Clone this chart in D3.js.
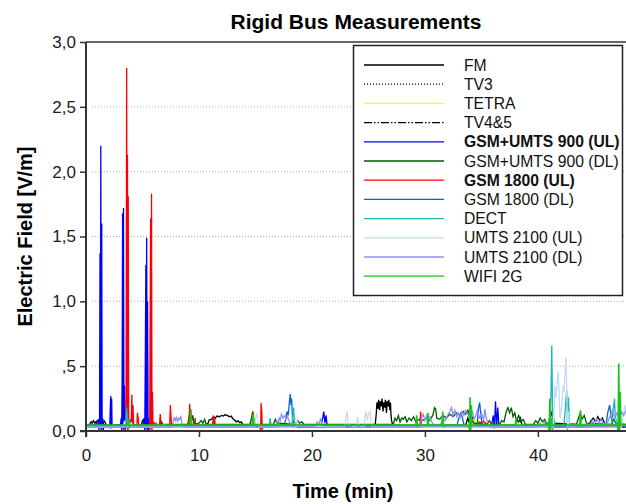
<!DOCTYPE html>
<html>
<head>
<meta charset="utf-8">
<script src="https://cdn.jsdelivr.net/npm/d3@7"></script>
<style>
  body { margin: 0; background: #fff; }
  text { font-family: Arial, "Liberation Sans", sans-serif; }
</style>
</head>
<body>
<svg id="chart" width="626" height="504"></svg>
<script>
// Field strength samples per service: [time (min), E (V/m)]
const fm = [[0,0.04],[0.3,0.05],[0.45,0.07],[0.55,0.06],[0.65,0.08],[0.8,0.06],[0.9,0.075],[1.0,0.045],[1.5,0.045],[1.6,0.08],[1.7,0.065],[1.8,0.045],[4.9,0.045],[5.0,0.08],[5.1,0.09],[5.2,0.07],[5.3,0.045],[10.6,0.045],[10.8,0.06],[10.9,0.085],[11.1,0.09],[11.3,0.11],[11.45,0.1],[11.6,0.115],[11.8,0.11],[12.0,0.12],[12.15,0.115],[12.3,0.125],[12.5,0.12],[12.7,0.11],[12.85,0.115],[13.0,0.095],[13.15,0.085],[13.3,0.07],[13.45,0.08],[13.6,0.065],[13.75,0.07],[13.9,0.045],[25.6,0.045],[25.7,0.14],[25.75,0.22],[25.85,0.17],[25.9,0.24],[26.0,0.16],[26.05,0.23],[26.15,0.19],[26.2,0.25],[26.3,0.15],[26.35,0.22],[26.45,0.18],[26.5,0.24],[26.6,0.14],[26.65,0.23],[26.75,0.19],[26.8,0.24],[26.9,0.16],[26.95,0.22],[27.0,0.12],[27.05,0.08],[27.15,0.045],[33.6,0.045],[33.8,0.1],[33.9,0.07],[34.1,0.12],[34.3,0.08],[34.5,0.045],[38.0,0.045],[38.1,0.09],[38.3,0.07],[38.45,0.1],[38.6,0.045],[40.9,0.045],[41.1,0.1],[41.3,0.16],[41.4,0.06],[44.5,0.045],[44.7,0.08],[44.9,0.1],[45.1,0.07],[45.3,0.11],[45.5,0.08],[45.7,0.1],[45.9,0.06],[46.1,0.045],[47.8,0.045]];
const tv3 = [[0,0.035],[10,0.04],[20,0.035],[30,0.04],[40,0.035],[47.8,0.04]];
const tetra = [[0,0.03],[33.9,0.03],[34.1,0.07],[34.3,0.09],[34.45,0.06],[34.6,0.085],[34.8,0.07],[35.0,0.03],[47.8,0.03]];
const tv45 = [[0,0.03],[12,0.035],[24,0.03],[36,0.035],[47.8,0.03]];
const gsm900ul = [[0,0.04],[0.9,0.05],[1.1,0.09],[1.15,0.0],[1.2,0.1],[1.24,1.37],[1.28,0.03],[1.31,2.2],[1.35,0.0],[1.39,1.6],[1.43,0.02],[1.47,0.1],[1.52,0.0],[1.58,0.05],[2.05,0.04],[2.1,0.02],[2.15,0.18],[2.19,0.27],[2.22,0.03],[2.27,0.25],[2.31,0.03],[2.4,0.04],[3.05,0.05],[3.12,0.1],[3.16,0.0],[3.2,0.43],[3.24,1.68],[3.28,0.02],[3.32,1.72],[3.36,0.0],[3.41,0.35],[3.46,0.02],[3.52,0.06],[3.6,0.04],[5.05,0.05],[5.15,0.1],[5.2,0.0],[5.25,0.56],[5.3,1.28],[5.33,0.02],[5.37,1.49],[5.41,0.0],[5.45,1.0],[5.5,0.0],[5.55,0.1],[5.6,0.04],[20.8,0.04],[20.95,0.1],[21.05,0.15],[21.15,0.06],[21.25,0.12],[21.35,0.04],[35.9,0.04],[36.05,0.12],[36.15,0.02],[36.25,0.23],[36.35,0.03],[36.45,0.18],[36.55,0.04],[47.8,0.04]];
const gsm900dl = [[0,0.04],[3.8,0.04],[3.9,0.09],[4.0,0.06],[4.1,0.1],[4.2,0.05],[6.6,0.04],[6.7,0.07],[6.8,0.05],[9.0,0.05],[9.15,0.12],[9.25,0.17],[9.35,0.08],[9.45,0.12],[9.55,0.05],[10.0,0.06],[10.2,0.08],[10.35,0.06],[10.5,0.09],[10.65,0.05],[14.5,0.05],[14.65,0.1],[14.75,0.15],[14.85,0.07],[15.0,0.05],[16.6,0.05],[16.75,0.09],[16.9,0.06],[18.6,0.05],[18.75,0.08],[18.9,0.06],[19.1,0.07],[19.3,0.05],[27.2,0.05],[27.35,0.1],[27.5,0.08],[27.65,0.12],[27.8,0.07],[27.95,0.1],[28.1,0.09],[28.25,0.11],[28.4,0.07],[28.6,0.1],[28.8,0.08],[29.0,0.11],[29.2,0.07],[29.5,0.09],[29.8,0.08],[30.1,0.1],[30.4,0.08],[30.7,0.12],[30.85,0.18],[30.95,0.17],[31.05,0.1],[31.3,0.09],[31.6,0.12],[31.9,0.1],[32.2,0.13],[32.5,0.11],[32.8,0.14],[33.1,0.12],[33.4,0.15],[33.6,0.13],[33.8,0.16],[34.0,0.1],[34.3,0.06],[35.5,0.05],[35.7,0.08],[35.9,0.05],[36.6,0.05],[36.8,0.08],[37.0,0.07],[37.2,0.15],[37.35,0.18],[37.5,0.14],[37.65,0.18],[37.8,0.11],[37.95,0.14],[38.1,0.08],[38.3,0.12],[38.5,0.07],[38.7,0.09],[38.9,0.05],[39.6,0.05],[39.8,0.08],[40.0,0.06],[40.2,0.1],[40.4,0.07],[40.6,0.09],[40.8,0.05],[43.4,0.05],[43.6,0.1],[43.75,0.14],[43.9,0.09],[44.1,0.12],[44.3,0.06],[46.5,0.05],[46.7,0.09],[46.9,0.06],[47.8,0.05]];
const gsm1800ul = [[0,0.03],[3.45,0.04],[3.5,0.0],[3.55,0.3],[3.6,2.8],[3.64,0.05],[3.67,2.13],[3.71,0.0],[3.74,1.81],[3.78,0.02],[3.83,0.08],[3.9,0.03],[4.0,0.06],[4.06,0.28],[4.1,0.04],[4.16,0.2],[4.22,0.03],[4.5,0.03],[4.55,0.14],[4.62,0.1],[4.68,0.03],[5.6,0.03],[5.64,0.0],[5.68,0.87],[5.72,1.64],[5.76,0.02],[5.8,1.83],[5.84,0.0],[5.88,0.3],[5.93,0.03],[6.0,0.07],[6.1,0.04],[6.2,0.06],[6.3,0.03],[6.5,0.03],[6.57,0.13],[6.64,0.05],[6.7,0.03],[7.4,0.03],[7.47,0.2],[7.52,0.12],[7.58,0.03],[9.1,0.03],[9.18,0.21],[9.25,0.05],[9.3,0.03],[9.6,0.03],[9.66,0.1],[9.72,0.03],[11.2,0.03],[11.27,0.12],[11.33,0.05],[11.38,0.1],[11.45,0.03],[14.7,0.03],[14.78,0.15],[14.86,0.08],[14.92,0.03],[15.4,0.03],[15.46,0.0],[15.5,0.215],[15.56,0.15],[15.6,0.01],[15.66,0.03],[29.55,0.03],[29.62,0.15],[29.7,0.05],[29.75,0.03],[34.7,0.03],[34.8,0.07],[35.0,0.065],[35.2,0.075],[35.4,0.06],[35.5,0.03],[47.8,0.03]];
const gsm1800dl = [[0,0.03],[17.5,0.03],[17.65,0.08],[17.8,0.15],[17.9,0.12],[18.0,0.22],[18.08,0.285],[18.15,0.2],[18.2,0.25],[18.28,0.1],[18.4,0.05],[18.5,0.03],[32.8,0.03],[33.0,0.1],[33.2,0.14],[33.35,0.09],[33.5,0.03],[34.6,0.03],[34.75,0.18],[34.85,0.22],[34.95,0.12],[35.1,0.03],[46.0,0.03],[46.2,0.15],[46.35,0.2],[46.5,0.1],[46.7,0.03],[47.8,0.03]];
const dect = [[0,0.03],[3.5,0.03],[3.55,0.1],[3.6,0.18],[3.65,0.12],[3.7,0.03],[16.2,0.03],[16.3,0.1],[16.4,0.03],[18.2,0.03],[18.3,0.12],[18.38,0.18],[18.45,0.08],[18.55,0.03],[40.8,0.03],[41.0,0.1],[41.1,0.0],[41.18,0.4],[41.23,0.66],[41.28,0.3],[41.33,0.0],[41.4,0.1],[41.5,0.04],[42.3,0.04],[42.45,0.2],[42.55,0.31],[42.62,0.0],[42.7,0.26],[42.8,0.05],[46.5,0.05],[46.65,0.15],[46.78,0.25],[46.85,0.12],[47.0,0.05],[47.8,0.04]];
const umts2100ul = [[0,0.03],[3.3,0.03],[3.4,0.08],[3.5,0.04],[3.9,0.03],[4.0,0.07],[4.1,0.03],[6.8,0.03],[6.9,0.06],[7.0,0.03],[14.9,0.03],[15.0,0.1],[15.1,0.14],[15.2,0.08],[15.3,0.03],[18.6,0.03],[18.7,0.08],[18.8,0.04],[22.9,0.03],[23.0,0.1],[23.1,0.155],[23.2,0.05],[23.9,0.03],[24.05,0.11],[24.15,0.04],[24.6,0.03],[24.7,0.11],[24.8,0.15],[24.9,0.08],[25.05,0.14],[25.15,0.15],[25.25,0.06],[25.4,0.03],[41.35,0.03],[41.45,0.2],[41.52,0.35],[41.6,0.25],[41.7,0.38],[41.8,0.46],[41.88,0.3],[41.95,0.1],[42.05,0.15],[42.15,0.25],[42.25,0.35],[42.32,0.3],[42.4,0.45],[42.48,0.57],[42.55,0.35],[42.62,0.02],[42.7,0.15],[42.8,0.03],[47.4,0.03],[47.55,0.12],[47.7,0.2],[47.8,0.15]];
const umts2100dl = [[0,0.03],[7.6,0.03],[7.7,0.07],[7.8,0.1],[7.9,0.08],[8.0,0.11],[8.1,0.07],[8.2,0.1],[8.3,0.09],[8.4,0.11],[8.5,0.05],[8.6,0.03],[16.8,0.03],[16.9,0.08],[17.0,0.06],[17.1,0.1],[17.2,0.08],[17.3,0.13],[17.45,0.1],[17.6,0.12],[17.7,0.09],[17.85,0.11],[18.0,0.07],[18.2,0.05],[18.5,0.06],[18.7,0.04],[20.3,0.03],[20.45,0.07],[20.6,0.05],[20.75,0.09],[20.9,0.05],[21.1,0.03],[29.6,0.03],[29.7,0.1],[29.85,0.13],[30.0,0.08],[30.15,0.12],[30.3,0.1],[30.45,0.11],[30.6,0.07],[30.75,0.05],[31.4,0.05],[31.6,0.1],[31.8,0.08],[32.0,0.12],[32.2,0.15],[32.35,0.18],[32.5,0.12],[32.65,0.16],[32.8,0.11],[32.95,0.14],[33.1,0.1],[33.3,0.15],[33.45,0.12],[33.6,0.16],[33.8,0.13],[34.0,0.1],[34.2,0.15],[34.35,0.09],[34.5,0.12],[34.65,0.16],[34.8,0.1],[35.0,0.14],[35.2,0.08],[35.3,0.17],[35.4,0.11],[35.6,0.06],[35.8,0.03],[40.0,0.03],[40.2,0.06],[40.4,0.04],[40.6,0.07],[40.8,0.03],[44.6,0.03],[44.8,0.08],[45.0,0.05],[45.2,0.1],[45.4,0.06],[45.6,0.09],[45.8,0.05],[46.2,0.07],[46.4,0.12],[46.6,0.16],[46.8,0.1],[47.0,0.14],[47.2,0.09],[47.4,0.15],[47.6,0.12],[47.8,0.16]];
const wifi2g = [[0,0.045],[3.7,0.045],[3.8,0.09],[3.85,0.03],[3.9,0.045],[9.2,0.045],[9.27,0.17],[9.32,0.08],[9.38,0.045],[14.7,0.045],[14.8,0.13],[14.86,0.045],[17.0,0.045],[17.05,0.07],[17.1,0.045],[29.2,0.045],[29.28,0.12],[29.34,0.03],[29.4,0.045],[30.2,0.045],[30.27,0.14],[30.33,0.045],[31.5,0.045],[31.58,0.15],[31.65,0.03],[31.72,0.045],[33.9,0.045],[33.95,0.0],[34.0,0.26],[34.05,0.0],[34.1,0.2],[34.15,0.045],[38.0,0.045],[38.07,0.1],[38.13,0.045],[40.95,0.045],[41.0,0.0],[41.06,0.25],[41.12,0.0],[41.18,0.1],[41.24,0.045],[43.7,0.045],[43.77,0.16],[43.83,0.03],[43.9,0.045],[47.05,0.045],[47.1,0.0],[47.16,0.52],[47.22,0.0],[47.28,0.3],[47.34,0.045],[47.8,0.045]];

const xTicks = [0, 10, 20, 30, 40];
const yTicks = [0, 0.5, 1.0, 1.5, 2.0, 2.5, 3.0];
const yTickLabels = ["0,0", ",5", "1,0", "1,5", "2,0", "2,5", "3,0"];
const gridValues = [0.5, 1.0, 1.5, 2.0, 2.5];

const series = [
  { name: "FM", data: fm, color: "#000000", dash: null, bold: false },
  { name: "TV3", data: tv3, color: "#000000", dash: "1,2", bold: false },
  { name: "TETRA", data: tetra, color: "#ffff00", dash: null, bold: false },
  { name: "TV4&5", data: tv45, color: "#000000", dash: "8,2,1.5,2,1.5,2", bold: false },
  { name: "GSM+UMTS 900 (UL)", data: gsm900ul, color: "#0000ff", dash: null, bold: true },
  { name: "GSM+UMTS 900 (DL)", data: gsm900dl, color: "#005c00", dash: null, bold: false },
  { name: "GSM 1800 (UL)", data: gsm1800ul, color: "#ff0000", dash: null, bold: true },
  { name: "GSM 1800 (DL)", data: gsm1800dl, color: "#0066cc", dash: null, bold: false },
  { name: "DECT", data: dect, color: "#19b8b8", dash: null, bold: false },
  { name: "UMTS 2100 (UL)", data: umts2100ul, color: "#c4dcf6", dash: null, bold: false },
  { name: "UMTS 2100 (DL)", data: umts2100dl, color: "#8e8ef6", dash: null, bold: false },
  { name: "WIFI 2G", data: wifi2g, color: "#18c818", dash: null, bold: false }
];

const svg = d3.select("#chart");
svg.append("rect").attr("width", 626).attr("height", 504).attr("fill", "#fff");

const x = d3.scaleLinear().domain([0, 47.8]).range([86, 626]);
const y = d3.scaleLinear().domain([0, 3]).range([431, 42]);

// Title
svg.append("text").attr("x", 356).attr("y", 29).attr("text-anchor", "middle")
  .attr("font-size", 21).attr("font-weight", "bold").attr("fill", "#000")
  .text("Rigid Bus Measurements");

// Horizontal dotted grid
svg.append("g").selectAll("line").data(gridValues).join("line")
  .attr("x1", x(0) + 6).attr("x2", 626)
  .attr("y1", d => y(d)).attr("y2", d => y(d))
  .attr("stroke", "#b4b4b4").attr("stroke-width", 1)
  .attr("stroke-dasharray", "1,2");

// Data traces, clipped to the plotting area
svg.append("clipPath").attr("id", "plotClip").append("rect")
  .attr("x", x(0)).attr("y", y(3)).attr("width", 626 - x(0)).attr("height", y(0) - y(3));

const line = d3.line().x(d => x(d[0])).y(d => y(d[1]));
svg.append("g").attr("clip-path", "url(#plotClip)")
  .selectAll("path").data(series).join("path")
  .attr("d", d => line(d.data))
  .attr("fill", "none")
  .attr("stroke", d => d.color)
  .attr("stroke-width", d => d.name === "WIFI 2G" ? 1.6 : 1.3)
  .attr("stroke-dasharray", d => d.dash)
  .attr("stroke-linejoin", "miter");

// Axes
const axisColor = "#333";
const yAxis = svg.append("g").attr("transform", `translate(${x(0)},0)`)
  .call(d3.axisLeft(y).tickValues(yTicks).tickSize(6).tickSizeOuter(0).tickPadding(4)
    .tickFormat((d, i) => yTickLabels[i]));
const xAxis = svg.append("g").attr("transform", `translate(0,${y(0)})`)
  .call(d3.axisBottom(x).tickValues(xTicks).tickSize(6).tickSizeOuter(0).tickPadding(12)
    .tickFormat(d3.format("d")));
[xAxis, yAxis].forEach(g => {
  g.select(".domain").remove();
  g.selectAll(".tick line").attr("stroke", axisColor).attr("stroke-width", 1.5);
  g.selectAll(".tick text").attr("font-size", 17).attr("fill", "#1a1a1a")
    .attr("font-family", "Arial, 'Liberation Sans', sans-serif");
});
svg.append("line").attr("x1", x(0)).attr("x2", x(0)).attr("y1", y(3)).attr("y2", y(0) + 6)
  .attr("stroke", axisColor).attr("stroke-width", 2);
svg.append("line").attr("x1", x(0) - 6).attr("x2", 626).attr("y1", y(0)).attr("y2", y(0))
  .attr("stroke", axisColor).attr("stroke-width", 2);
// Upper frame edge
svg.append("line").attr("x1", x(0)).attr("x2", 626).attr("y1", y(3)).attr("y2", y(3))
  .attr("stroke", axisColor).attr("stroke-width", 1.5);

// Axis titles
svg.append("text").attr("x", 343).attr("y", 498).attr("text-anchor", "middle")
  .attr("font-size", 20).attr("font-weight", "bold").text("Time (min)");
svg.append("text").attr("transform", `translate(32,${(y(0) + y(3)) / 2}) rotate(-90)`)
  .attr("text-anchor", "middle").attr("font-size", 20).attr("font-weight", "bold")
  .text("Electric Field [V/m]");

// Legend
const lg = svg.append("g");
lg.append("rect").attr("x", 353.5).attr("y", 45.5).attr("width", 269).attr("height", 250)
  .attr("fill", "#fff").attr("stroke", "#222").attr("stroke-width", 1.5);
const rows = lg.selectAll("g.row").data(series).join("g").attr("class", "row")
  .attr("transform", (d, i) => `translate(0,${65 + i * 19.2})`);
rows.append("line").attr("x1", 364).attr("x2", 444).attr("y1", 0).attr("y2", 0)
  .attr("stroke", d => d.color).attr("stroke-width", 1.3)
  .attr("stroke-dasharray", d => d.dash);
rows.append("text").attr("x", 464).attr("y", 5.5).attr("font-size", 15.7)
  .attr("font-weight", d => d.bold ? "bold" : "normal").attr("fill", "#111")
  .text(d => d.name);
</script>
</body>
</html>
